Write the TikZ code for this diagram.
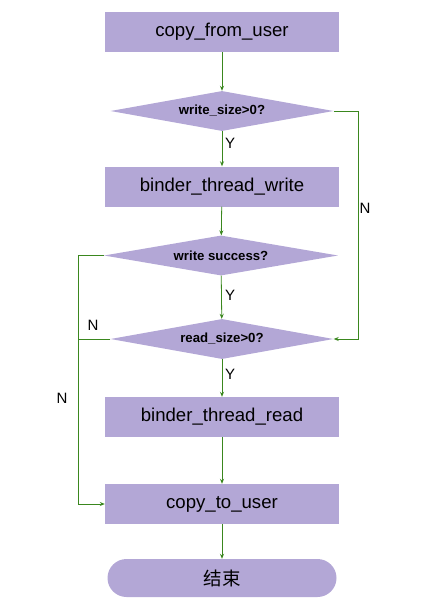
\documentclass[tikz,border=0pt]{standalone}
\usepackage{fontspec}
\setmainfont{Liberation Sans}
\newfontfamily\cjk{Noto Sans CJK SC}
\usetikzlibrary{shapes.geometric,arrows.meta}
\definecolor{boxfill}{RGB}{179,167,214}
\definecolor{linegreen}{RGB}{58,135,30}
\tikzset{
  procbox/.style={rectangle, fill=boxfill, minimum width=234pt, minimum height=40pt, inner sep=0pt, font=\fontsize{18.6}{22}\selectfont},
  decbox/.style={diamond, fill=boxfill, aspect=5.6, minimum width=223pt, minimum height=40pt, inner sep=0pt, font=\fontsize{13.2}{15}\selectfont\bfseries},
  termbox/.style={rectangle, rounded corners=19pt, fill=boxfill, minimum width=229pt, minimum height=38pt, inner sep=0pt, font=\fontsize{18.5}{22}\selectfont\cjk},
  conn/.style={draw=linegreen, line width=0.8pt, -{Stealth[length=5pt,width=4pt]}},
  plainconn/.style={draw=linegreen, line width=0.8pt},
  lbl/.style={inner sep=0pt, font=\fontsize{15}{17}\selectfont}
}
\begin{document}
\begin{tikzpicture}[x=1pt,y=-1pt]
\useasboundingbox (0,0) rectangle (425,605);
\node[procbox] (cfu) at (222,32) {copy\_from\_user};
\node[decbox] (ws) at (222,111) {write\_size>0?};
\node[procbox] (btw) at (222,186.5) {binder\_thread\_write};
\node[decbox, minimum width=234pt] (wsucc) at (221,255.5) {write success?};
\node[decbox] (rs) at (222,339) {read\_size>0?};
\node[procbox] (btr) at (222,417) {binder\_thread\_read};
\node[procbox] (ctu) at (222,504) {copy\_to\_user};
\node[termbox] (end) at (222,578) {结束};
\coordinate (lx) at (78,0);
\coordinate (rx) at (358,0);
\draw[conn] (cfu) -- (ws);
\draw[conn] (ws) -- (btw);
\draw[conn] (btw) -- (wsucc);
\draw[conn] (wsucc) -- (rs);
\draw[conn] (rs) -- (btr);
\draw[conn] (btr) -- (ctu);
\draw[conn] (ctu) -- (end);
\draw[conn] (ws.east) -- (ws.east -| rx) |- (rs.east);
\draw[conn] (wsucc.west) -- (wsucc.west -| lx) |- (ctu.west);
\draw[plainconn] (rs.west) -- (rs.west -| lx);
\node[lbl] (y1) at (230,143) {Y};
\node[lbl] (y2) at (230,295) {Y};
\node[lbl] (y3) at (230,374) {Y};
\node[lbl] (n1) at (365,208) {N};
\node[lbl] (n2) at (93,325) {N};
\node[lbl] (n3) at (62,398) {N};
\end{tikzpicture}
\end{document}
